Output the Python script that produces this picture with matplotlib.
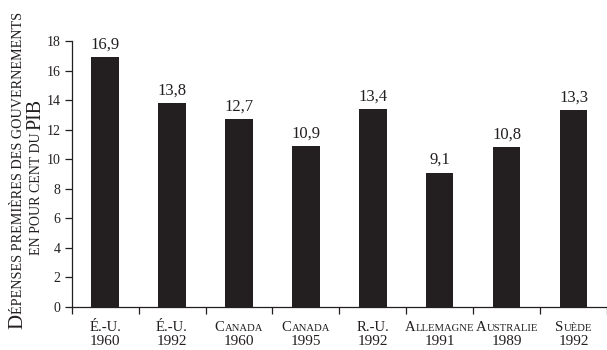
import matplotlib
matplotlib.use('Agg')
import matplotlib.pyplot as plt
from matplotlib import font_manager
from matplotlib.ft2font import FT2Font
from matplotlib.transforms import IdentityTransform

FONT = 'Liberation Serif'
BAR = '#231f20'

countries = ['É.-U.', 'É.-U.', 'Canada', 'Canada', 'R.-U.', 'Allemagne', 'Australie', 'Suède']
years = ['1960', '1992', '1960', '1995', '1992', '1991', '1989', '1992']
values = [16.9, 13.8, 12.7, 10.9, 13.4, 9.1, 10.8, 13.3]
yticks = [0, 2, 4, 6, 8, 10, 12, 14, 16, 18]
ylabel1 = 'Dépenses premières des gouvernements'
ylabel2 = 'en pour cent du PIB'

fig = plt.figure(figsize=(6.07, 3.5), dpi=100)
ax = fig.add_axes([0.1181, 0.1229, 0.8819, 0.76])

x = list(range(len(values)))
ax.bar(x, values, width=0.41, color=BAR, zorder=2)
for i, v in enumerate(values):
    ax.text(i, v + 0.3, ('%.1f' % v).replace('.', ','), ha='center', va='bottom',
            fontsize=12, family=FONT, color=BAR)

ax.set_xlim(-0.5, 7.47)
ax.set_ylim(0, 18)
ax.set_yticks(yticks)
ax.set_yticklabels([str(t) for t in yticks], family=FONT, fontsize=10, color=BAR)
ax.set_xticks([i + 0.5 for i in range(-1, 8)])
ax.set_xticklabels([])
ax.tick_params(axis='both', direction='out', length=5, width=0.9, color=BAR, pad=3)
for s in ['top', 'right']:
    ax.spines[s].set_visible(False)
for s in ['left', 'bottom']:
    ax.spines[s].set_linewidth(0.9)
    ax.spines[s].set_color(BAR)

ft = FT2Font(font_manager.findfont(font_manager.FontProperties(family=FONT)))


def advance(txt, sz):
    # typographic advance width in pixels
    ft.set_size(sz, fig.dpi)
    return sum(ft.load_char(ord(c)).linearHoriAdvance for c in txt) / 65536.0


# Small caps by hand: lower case letters are drawn as smaller capitals
def small_caps(cx, cy, s, big, small, rotation=0):
    runs = []
    for ch in s:
        if ch.islower():
            sz = small
            ch = ch.upper()
        elif ch == ' ':
            sz = small
        else:
            sz = big
        if runs and runs[-1][1] == sz:
            runs[-1][0] += ch
        else:
            runs.append([ch, sz])
    widths = [advance(txt, sz) for txt, sz in runs]
    pos = -sum(widths) / 2
    for (txt, sz), w in zip(runs, widths):
        if txt.strip():
            if rotation == 90:
                xy = (cx, cy + pos)
            else:
                xy = (cx + pos, cy)
            fig.text(xy[0], xy[1], txt, fontsize=sz, family=FONT, color=BAR,
                     transform=IdentityTransform(), ha='left', va='baseline',
                     rotation=rotation, rotation_mode='anchor')
        pos += w


for i in x:
    px = ax.transData.transform((i, 0))[0]
    small_caps(px, 19, countries[i], 10.6, 7.7)
    fig.text(px, 5, years[i], fontsize=11, family=FONT, color=BAR,
             transform=IdentityTransform(), ha='center', va='baseline')

small_caps(22, 179, ylabel1, 15, 10.2, rotation=90)
small_caps(40, 173, ylabel2, 14.5, 10, rotation=90)

fig.savefig('out.png', dpi=100)
